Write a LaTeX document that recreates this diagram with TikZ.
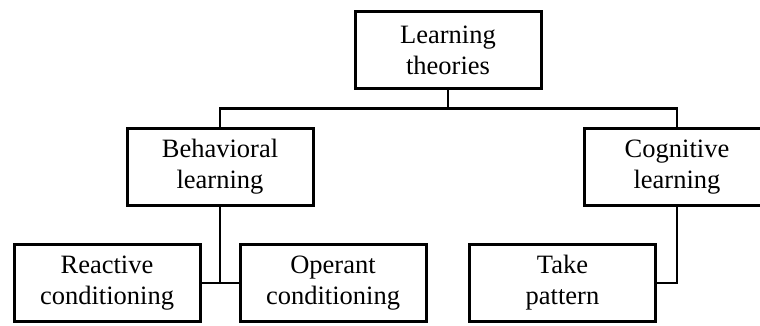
\documentclass[tikz,border=0pt]{standalone}
\usepackage{fontspec}
\setmainfont{Liberation Serif}
\begin{document}
\begin{tikzpicture}[x=1pt,y=1pt,
  box/.style={draw=black,line width=3pt,minimum width=186pt,minimum height=77pt,
    inner sep=0pt,align=center,font=\fontsize{26.5pt}{31pt}\selectfont},
  link/.style={draw=black,line width=2.6pt}]
  \path[use as bounding box] (0,0) rectangle (760,325);
  \clip (0,0) rectangle (760,325);

  % tree of learning theories
  \node[box] (root) at (448,275) {Learning\\theories};
  \node[box] (beh)  at (220,158) {Behavioral\\learning};
  \node[box] (cog)  at (677,158) {Cognitive\\learning};
  \node[box] (rea)  at (107,42)  {Reactive\\conditioning};
  \node[box] (ope)  at (333,42)  {Operant\\conditioning};
  \node[box] (take) at (562.5,42) {Take\\pattern};

  \coordinate (bus) at (448,216.5);

  % connectors
  \draw[link] (root.south) -- (bus);
  \draw[link] (beh.north) |- (bus) -| (cog.north);
  \draw[link] (beh.south) -- (beh.south |- rea.east);
  \draw[link] (rea.east) -- (ope.west);
  \draw[link] (cog.south) |- (take.east);
\end{tikzpicture}
\end{document}
